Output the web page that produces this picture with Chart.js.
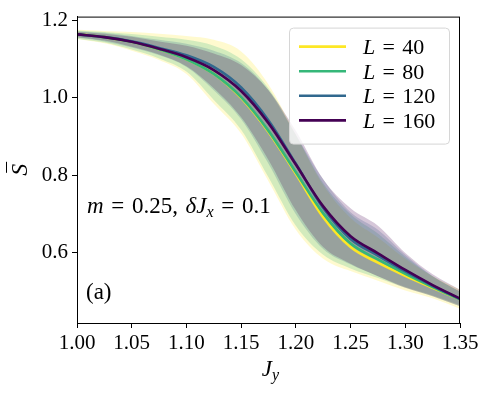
<!DOCTYPE html>
<html>
<head>
<meta charset="utf-8">
<script src="https://cdn.jsdelivr.net/npm/chart.js@4.4.1/dist/chart.umd.min.js"></script>
<style>
  body { margin: 0; background: #fff; }
  canvas { display: block; }
</style>
</head>
<body>
<canvas id="entropyChart" width="489" height="394"></canvas>
<script>
// J_y 取值
const jy = [1.00, 1.025, 1.05, 1.075, 1.10, 1.125, 1.15, 1.175, 1.20, 1.225, 1.25, 1.275, 1.30, 1.325, 1.35];

// 平均值 S̄
const sL40  = [1.165, 1.157, 1.145, 1.126, 1.100, 1.062, 1.000, 0.912, 0.804, 0.692, 0.615, 0.575, 0.541, 0.510, 0.480];
const sL80  = [1.164, 1.157, 1.145, 1.126, 1.100, 1.062, 1.002, 0.915, 0.808, 0.702, 0.624, 0.583, 0.546, 0.512, 0.480];
const sL120 = [1.164, 1.157, 1.146, 1.129, 1.110, 1.080, 1.027, 0.942, 0.830, 0.716, 0.636, 0.593, 0.552, 0.515, 0.481];
const sL160 = [1.164, 1.157, 1.145, 1.127, 1.105, 1.072, 1.018, 0.935, 0.828, 0.720, 0.643, 0.599, 0.556, 0.517, 0.482];

// 阴影带上下界
const hiL40  = [1.176, 1.173, 1.170, 1.166, 1.160, 1.150, 1.120, 1.035, 0.905, 0.775, 0.690, 0.640, 0.585, 0.540, 0.505];
const loL40  = [1.152, 1.141, 1.122, 1.098, 1.062, 0.985, 0.908, 0.785, 0.660, 0.585, 0.553, 0.528, 0.503, 0.483, 0.456];
const hiL80  = [1.174, 1.170, 1.165, 1.158, 1.150, 1.135, 1.100, 1.025, 0.905, 0.780, 0.700, 0.650, 0.590, 0.540, 0.500];
const loL80  = [1.153, 1.143, 1.125, 1.102, 1.068, 0.995, 0.918, 0.795, 0.670, 0.595, 0.560, 0.535, 0.510, 0.488, 0.462];
const hiL120 = [1.172, 1.168, 1.160, 1.150, 1.140, 1.122, 1.090, 1.020, 0.905, 0.790, 0.705, 0.660, 0.595, 0.540, 0.500];
const loL120 = [1.156, 1.146, 1.130, 1.110, 1.080, 1.020, 0.945, 0.830, 0.700, 0.610, 0.570, 0.540, 0.512, 0.490, 0.465];
const hiL160 = [1.171, 1.166, 1.158, 1.146, 1.135, 1.115, 1.085, 1.020, 0.915, 0.790, 0.715, 0.670, 0.600, 0.545, 0.505];
const loL160 = [1.157, 1.148, 1.132, 1.112, 1.082, 1.025, 0.950, 0.840, 0.710, 0.615, 0.572, 0.540, 0.510, 0.488, 0.462];

const sizes = ['40', '80', '120', '160'];
const xTicks = [1.00, 1.05, 1.10, 1.15, 1.20, 1.25, 1.30, 1.35];
const yTicks = [0.6, 0.8, 1.0, 1.2];

const colors = ['#fde725', '#35b779', '#31688e', '#440154'];
const bandAlpha = 0.22;
const SERIF = '"Liberation Serif", "DejaVu Serif", serif';
const SP = '\u2004';

function pts(ys) {
  return jy.map((x, i) => ({ x: x, y: ys[i] }));
}

function rgba(hex, a) {
  const n = parseInt(hex.slice(1), 16);
  return `rgba(${(n >> 16) & 255}, ${(n >> 8) & 255}, ${n & 255}, ${a})`;
}

const means = [sL40, sL80, sL120, sL160];
const highs = [hiL40, hiL80, hiL120, hiL160];
const lows = [loL40, loL80, loL120, loL160];

// 阴影带：L=40 最先画，L=160 最后画；曲线都在阴影带之上
const datasets = [];
means.forEach((m, i) => {
  datasets.push({
    label: 'band-hi-' + sizes[i],
    data: pts(highs[i]),
    borderWidth: 0,
    pointRadius: 0,
    backgroundColor: rgba(colors[i], bandAlpha),
    fill: '+1',
    cubicInterpolationMode: 'monotone',
    order: 30 - i
  });
  datasets.push({
    label: 'band-lo-' + sizes[i],
    data: pts(lows[i]),
    borderWidth: 0,
    pointRadius: 0,
    fill: false,
    cubicInterpolationMode: 'monotone',
    order: 30 - i
  });
});
means.forEach((m, i) => {
  datasets.push({
    label: 'L = ' + sizes[i],
    data: pts(m),
    borderColor: colors[i],
    borderWidth: 2.6,
    pointRadius: 0,
    fill: false,
    cubicInterpolationMode: 'monotone',
    order: 3 - i
  });
});

// 画一串混合样式文字
function drawRuns(ctx, x, y, runs) {
  runs.forEach(r => {
    ctx.font = (r.italic ? 'italic ' : '') + r.size + 'px ' + SERIF;
    ctx.fillText(r.text, x, y + (r.dy || 0));
    x += ctx.measureText(r.text).width;
  });
  return x;
}

const decorations = {
  id: 'decorations',
  afterDraw(chart) {
    const ctx = chart.ctx;
    const a = chart.chartArea;
    ctx.save();

    // 外框
    ctx.strokeStyle = '#000';
    ctx.lineWidth = 1;
    ctx.strokeRect(a.left + 0.5, a.top + 0.5, a.right - a.left - 1, a.bottom - a.top);

    ctx.fillStyle = '#000';
    ctx.textBaseline = 'alphabetic';
    ctx.textAlign = 'left';

    // 注释
    drawRuns(ctx, a.left + 10, 213, [
      { text: 'm', italic: true, size: 23 },
      { text: SP + '=' + SP + '0.25,' + SP, size: 23 },
      { text: 'δJ', italic: true, size: 23 },
      { text: 'x', italic: true, size: 16, dy: 4 },
      { text: SP + '=' + SP + '0.1', size: 23 }
    ]);
    drawRuns(ctx, a.left + 9, 299, [{ text: '(a)', size: 23 }]);

    // x 轴标题
    ctx.font = 'italic 23px ' + SERIF;
    const jw = ctx.measureText('J').width;
    ctx.font = 'italic 16px ' + SERIF;
    const yw = ctx.measureText('y').width;
    const cx = (a.left + a.right) / 2;
    drawRuns(ctx, cx - (jw + yw) / 2 + 2, 376, [
      { text: 'J', italic: true, size: 23 },
      { text: 'y', italic: true, size: 16, dy: 4 }
    ]);

    // y 轴标题 S̄
    ctx.save();
    ctx.translate(27, (a.top + a.bottom) / 2);
    ctx.rotate(-Math.PI / 2);
    ctx.font = 'italic 24px ' + SERIF;
    const sw = ctx.measureText('S').width;
    ctx.fillText('S', -sw / 2, 0);
    ctx.beginPath();
    ctx.lineWidth = 1;
    ctx.moveTo(-sw / 2 + 3, -20.5);
    ctx.lineTo(sw / 2 + 2, -20.5);
    ctx.stroke();
    ctx.restore();

    // 图例
    const bw = 160, bh = 116;
    const bx = a.right - 11 - bw, by = a.top + 11;
    ctx.beginPath();
    ctx.roundRect(bx + 0.5, by + 0.5, bw, bh, 4);
    ctx.fillStyle = 'rgba(255,255,255,0.8)';
    ctx.fill();
    ctx.strokeStyle = '#d6d6d6';
    ctx.lineWidth = 1;
    ctx.stroke();
    sizes.forEach((s, i) => {
      const ry = by + 19 + i * 24.6;
      ctx.beginPath();
      ctx.strokeStyle = colors[i];
      ctx.lineWidth = 2.6;
      ctx.moveTo(bx + 10, ry);
      ctx.lineTo(bx + 57, ry);
      ctx.stroke();
      ctx.fillStyle = '#000';
      drawRuns(ctx, bx + 74, ry + 7.5, [
        { text: 'L', italic: true, size: 22 },
        { text: SP + '=' + SP + s, size: 22 }
      ]);
    });

    ctx.restore();
  }
};

new Chart(document.getElementById('entropyChart'), {
  type: 'line',
  data: { datasets: datasets },
  options: {
    responsive: false,
    animation: false,
    devicePixelRatio: 1,
    layout: { padding: { top: 12, right: 29, left: 0, bottom: 0 } },
    plugins: {
      legend: { display: false },
      tooltip: { enabled: false }
    },
    scales: {
      x: {
        type: 'linear',
        min: 1.0,
        max: 1.35,
        afterBuildTicks: axis => { axis.ticks = xTicks.map(v => ({ value: v })); },
        afterFit: axis => { axis.height = 71; },
        grid: { drawOnChartArea: false, tickLength: 5, color: '#000' },
        border: { display: true, color: '#000', width: 1 },
        ticks: {
          color: '#000',
          padding: 3,
          maxRotation: 0,
          font: { family: SERIF, size: 21 },
          callback: v => v.toFixed(2)
        }
      },
      y: {
        min: 0.419,
        max: 1.21,
        afterBuildTicks: axis => { axis.ticks = yTicks.map(v => ({ value: v })); },
        afterFit: axis => { axis.width = 77; },
        grid: { drawOnChartArea: false, tickLength: 5, color: '#000' },
        border: { display: true, color: '#000', width: 1 },
        ticks: {
          color: '#000',
          padding: 4,
          font: { family: SERIF, size: 21 },
          callback: v => v.toFixed(1)
        }
      }
    }
  },
  plugins: [decorations]
});
</script>
</body>
</html>
